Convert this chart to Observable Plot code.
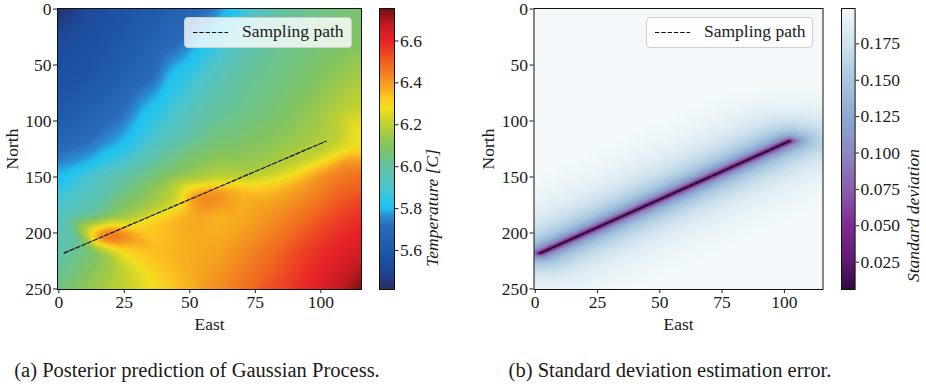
<!DOCTYPE html>
<html>
<head>
<meta charset="utf-8">
<script src="https://cdn.jsdelivr.net/npm/d3@7"></script>
<script src="https://cdn.jsdelivr.net/npm/@observablehq/plot@0.6"></script>
<style>
  body { margin: 0; background: #fff; }
  #root { position: relative; width: 926px; height: 386px; overflow: hidden;
          font-family: "Liberation Serif", "Times New Roman", serif; color: #1a1a1a; }
  .abs { position: absolute; }
  .abs svg { max-width: none !important; }
  .legend { position: absolute; box-sizing: border-box; border: 1px solid #cfcfcf; border-radius: 4px;
            background: rgba(255,255,255,0.8); }
  .legend span { position: absolute; font-size: 17.5px; white-space: nowrap; }
  .caption { position: absolute; font-size: 20.5px; white-space: nowrap; transform: translateX(-50%); }
</style>
</head>
<body>
<div id="root"></div>
<script>
// ---------------- data ----------------
const pathEast = [2, 102];
const pathNorth = [218, 118];

const xTicks = [0, 25, 50, 75, 100];
const yTicks = [0, 50, 100, 150, 200, 250];
const tempTicks = [5.6, 5.8, 6.0, 6.2, 6.4, 6.6];
const stdTicks = [0.025, 0.05, 0.075, 0.1, 0.125, 0.15, 0.175];

// Posterior mean temperature read on a coarse grid (east x north)
const gridEast = [0, 12.5, 25, 37.5, 50, 60, 70, 82.5, 95, 107.5, 115];
const gridNorth = [0, 30, 60, 90, 120, 150, 185, 215, 235, 250];
const tempGrid = [
  [5.42, 5.52, 5.57, 5.62, 5.67, 5.75, 5.85, 5.97, 6.03, 6.06, 6.08],
  [5.52, 5.56, 5.60, 5.67, 5.75, 5.85, 5.94, 6.02, 6.05, 6.08, 6.10],
  [5.56, 5.58, 5.65, 5.73, 5.86, 5.94, 6.01, 6.04, 6.08, 6.13, 6.16],
  [5.60, 5.65, 5.72, 5.83, 5.93, 6.00, 6.03, 6.07, 6.12, 6.18, 6.22],
  [5.68, 5.73, 5.80, 5.93, 6.03, 6.07, 6.09, 6.12, 6.16, 6.21, 6.27],
  [5.80, 5.92, 6.01, 6.08, 6.14, 6.19, 6.20, 6.24, 6.37, 6.46, 6.48],
  [5.92, 6.01, 6.14, 6.27, 6.38, 6.36, 6.37, 6.42, 6.48, 6.55, 6.58],
  [5.96, 6.07, 6.30, 6.35, 6.37, 6.38, 6.42, 6.48, 6.56, 6.61, 6.64],
  [6.01, 6.11, 6.20, 6.32, 6.37, 6.40, 6.45, 6.51, 6.58, 6.65, 6.70],
  [6.06, 6.14, 6.21, 6.29, 6.36, 6.42, 6.47, 6.54, 6.60, 6.68, 6.75]
];
// Readings along the colour contours of the cool band (5.72, 5.8, 5.9, 6.0)
const bandEast  = [57, 46, 37, 25, 11, 0,   65, 54, 42, 33, 25, 12, 0,   74, 65, 55, 46, 35, 24, 12, 0,   86, 77, 68, 58, 50, 38, 25, 12, 0];
const bandNorth = [0, 30, 60, 90, 119, 128, 0, 30, 60, 89, 119, 138, 150, 0, 30, 60, 89, 119, 138, 152, 176, 0, 30, 60, 90, 115, 132, 152, 184, 226];
const bandTemp  = [5.72, 5.72, 5.72, 5.72, 5.72, 5.72, 5.8, 5.8, 5.8, 5.8, 5.8, 5.8, 5.8,
                   5.9, 5.9, 5.9, 5.9, 5.9, 5.9, 5.9, 5.9, 6.0, 6.0, 6.0, 6.0, 6.0, 6.0, 6.0, 6.0, 6.0];
// Extra readings near the sampling path (local anomalies)
const extraEast  = [19, 16, 13.5, 17, 23, 28, 24, 19, 20, 14, 11, 9, 11, 15, 21, 27, 32, 27, 20, 26,
                    30, 38, 44, 33, 40, 45,
                    55, 51, 60, 65, 50, 57, 48, 48, 52, 60, 67, 44, 55, 63, 56, 63,
                    72, 72, 72, 72, 80, 80, 80, 80, 90, 90, 90, 90, 100, 100, 100, 100, 107, 107, 108, 110, 113, 114];
const extraNorth = [202, 205, 206, 198, 200, 204, 208, 209, 193, 197, 203, 206, 210, 212, 213, 211, 199, 196, 189, 190,
                    184, 177, 171, 192, 185, 180,
                    168, 172, 164, 161, 165, 161, 167, 176, 159, 157, 156, 165, 154, 153, 177, 173,
                    146, 152, 158, 165, 139, 148, 156, 163, 129, 140, 148, 156, 120, 131, 138, 146, 112, 122, 129, 137, 100, 112];
const extraTemp  = [6.52, 6.47, 6.40, 6.45, 6.47, 6.42, 6.44, 6.40, 6.30, 6.30, 6.25, 6.02, 6.05, 6.22, 6.32, 6.36, 6.32, 6.33, 6.18, 6.20,
                    6.17, 6.18, 6.20, 6.32, 6.31, 6.30,
                    6.45, 6.42, 6.44, 6.38, 6.38, 6.38, 6.30, 6.32, 6.30, 6.30, 6.30, 6.20, 6.19, 6.21, 6.42, 6.40,
                    6.16, 6.21, 6.30, 6.36, 6.16, 6.21, 6.30, 6.35, 6.17, 6.21, 6.30, 6.37, 6.18, 6.21, 6.30, 6.40, 6.19, 6.22, 6.30, 6.42, 6.26, 6.30];

// Temperature colour map
const tempColorStops = [5.414, 5.47, 5.55, 5.65, 5.72, 5.765, 5.8, 5.83, 5.9, 6.0, 6.1, 6.2, 6.28, 6.33, 6.4, 6.5, 6.6, 6.68, 6.755];
const tempColors = ["#2a2f5e", "#1f3f8a", "#1c50a2", "#2360b0", "#2a6cbb", "#2a8ed2", "#22bef0", "#26c4ec", "#4ec4cc", "#62c2a2",
                    "#82c460", "#c0d030", "#f0e020", "#fcc820", "#f49a20", "#f06020", "#e82228", "#c01a20", "#701010"];

// Standard deviation vs distance from the sampling path
const stdDistance = [0, 0.6, 1.2, 2, 3, 4.5, 6.5, 9, 13, 18, 25, 35, 50];
const stdValue = [0.006, 0.03, 0.055, 0.08, 0.1, 0.118, 0.135, 0.15, 0.163, 0.175, 0.186, 0.194, 0.199];
const stdDomain = [0.0062, 0.1993];
// Standard deviation colour map
const stdColorStops = [0.0062, 0.025, 0.05, 0.075, 0.1, 0.125, 0.15, 0.175, 0.1993];
const stdColors = ["#300a40", "#5e1a70", "#7e2a92", "#8a5eae", "#8b88c0", "#8eaad2", "#a8c6df", "#cfe2ee", "#f3f9fb"];

// ---------------- build ----------------
const serif = '"Liberation Serif", "Times New Roman", serif';
const pathPoints = pathEast.map((e, i) => ({east: e, north: pathNorth[i]}));
const tempPoints = [];
gridNorth.forEach((n, r) => gridEast.forEach((e, c) => tempPoints.push({east: e, north: n, temp: tempGrid[r][c]})));
bandEast.forEach((e, i) => tempPoints.push({east: e, north: bandNorth[i], temp: bandTemp[i]}));
extraEast.forEach((e, i) => tempPoints.push({east: e, north: extraNorth[i], temp: extraTemp[i]}));

// Triangulated (barycentric) field of the readings, lightly smoothed
const X0 = -0.5, X1 = 115.5, Y0 = -0.5, Y1 = 250.5, W = 304, H = 281;
function tempField() {
  const f = new Float64Array(W * H).fill(NaN);
  const del = d3.Delaunay.from(tempPoints, d => d.east, d => d.north);
  const T = del.triangles;
  const sx = (X1 - X0) / W, sy = (Y1 - Y0) / H;
  for (let t = 0; t < T.length; t += 3) {
    const a = tempPoints[T[t]], b = tempPoints[T[t + 1]], c = tempPoints[T[t + 2]];
    const det = (b.north - c.north) * (a.east - c.east) + (c.east - b.east) * (a.north - c.north);
    if (!det) continue;
    const i0 = Math.max(0, Math.floor((Math.min(a.east, b.east, c.east) - X0) / sx - 0.5));
    const i1 = Math.min(W - 1, Math.ceil((Math.max(a.east, b.east, c.east) - X0) / sx));
    const j0 = Math.max(0, Math.floor((Math.min(a.north, b.north, c.north) - Y0) / sy - 0.5));
    const j1 = Math.min(H - 1, Math.ceil((Math.max(a.north, b.north, c.north) - Y0) / sy));
    for (let j = j0; j <= j1; j++) {
      const y = Y0 + (j + 0.5) * sy;
      for (let i = i0; i <= i1; i++) {
        const x = X0 + (i + 0.5) * sx;
        const l1 = ((b.north - c.north) * (x - c.east) + (c.east - b.east) * (y - c.north)) / det;
        const l2 = ((c.north - a.north) * (x - c.east) + (a.east - c.east) * (y - c.north)) / det;
        const l3 = 1 - l1 - l2;
        if (l1 >= -1e-9 && l2 >= -1e-9 && l3 >= -1e-9) f[j * W + i] = l1 * a.temp + l2 * b.temp + l3 * c.temp;
      }
    }
  }
  for (let j = 0; j < H; j++) for (let i = 0; i < W; i++) {
    const k = j * W + i;
    if (isNaN(f[k])) f[k] = tempPoints[del.find(X0 + (i + 0.5) * sx, Y0 + (j + 0.5) * sy)].temp;
  }
  d3.blur2({data: f, width: W, height: H}, 4, 4);
  return Array.from(f);
}

const profile = d3.scaleLinear(stdDistance, stdValue).clamp(true);
function distToPath(x, y) {
  const ax = pathEast[0], ay = pathNorth[0], bx = pathEast[1], by = pathNorth[1];
  const dx = bx - ax, dy = by - ay;
  let t = ((x - ax) * dx + (y - ay) * dy) / (dx * dx + dy * dy);
  t = Math.max(0, Math.min(1, t));
  return Math.hypot(x - (ax + t * dx), y - (ay + t * dy));
}

const tempColor = {type: "linear", domain: tempColorStops, range: tempColors, clamp: true};
const stdColor = {type: "linear", domain: stdColorStops, range: stdColors, clamp: true};
const baseStyle = {fontFamily: serif, fontSize: "17.5px", color: "#1a1a1a", background: "transparent", overflow: "visible"};
const font = {fontFamily: serif, fontSize: 17.5};

function heatmap({raster, color, marginLeft, marginRight}) {
  return Plot.plot({
    width: 370, height: 335, marginLeft, marginRight, marginTop: 8, marginBottom: 46,
    style: baseStyle,
    x: {domain: [X0, X1]},
    y: {domain: [Y0, Y1], reverse: true},
    color,
    marks: [
      raster,
      Plot.line(pathPoints, {x: "east", y: "north", stroke: "#111", strokeWidth: 1.2, strokeDasharray: "4.4,1.9"}),
      Plot.frame({stroke: "#111", strokeWidth: 1}),
      Plot.axisX({ticks: xTicks, tickSize: 4, tickPadding: 2, label: "East", labelAnchor: "center", labelArrow: "none", labelOffset: 40, ...font}),
      Plot.axisY({ticks: yTicks, tickSize: 4, tickPadding: 2, label: "North", labelAnchor: "center", labelArrow: "none", labelOffset: 52, ...font})
    ]
  });
}

function colorbar({domain, color, ticks, tickFormat, label, barWidth, labelDx}) {
  return Plot.plot({
    width: 100, height: 335, marginLeft: 0, marginRight: 100 - barWidth, marginTop: 8, marginBottom: 46,
    style: baseStyle,
    x: {domain: [0, 1], axis: null},
    y: {domain},
    color,
    marks: [
      Plot.raster({x1: 0, x2: 1, y1: domain[0], y2: domain[1], fill: (x, y) => y, pixelSize: 1}),
      Plot.frame({stroke: "#111", strokeWidth: 1}),
      Plot.axisY({anchor: "right", ticks, tickFormat, tickSize: 3.5, tickPadding: 2, label: null, ...font}),
      Plot.text([label], {text: d => d, frameAnchor: "right", rotate: -90, dx: labelDx, fontStyle: "italic", ...font})
    ]
  });
}

const root = document.getElementById("root");
function place(node, left, top, width) {
  const d = document.createElement("div");
  d.className = "abs"; d.style.left = left + "px"; d.style.top = top + "px"; d.style.width = width + "px";
  d.appendChild(node); root.appendChild(d);
}

place(heatmap({
  raster: Plot.raster(tempField(), {width: W, height: H, x1: X0, x2: X1, y1: Y0, y2: Y1}),
  color: tempColor, marginLeft: 57, marginRight: 9
}), 0, 0, 370);

place(colorbar({domain: [5.414, 6.755], color: tempColor, ticks: tempTicks, tickFormat: ".1f",
  label: "Temperature [C]", barWidth: 15, labelDx: 38}), 379, 0, 100);

place(heatmap({
  raster: Plot.raster({fill: (x, y) => profile(distToPath(x, y)), x1: X0, x2: X1, y1: Y0, y2: Y1, pixelSize: 1}),
  color: stdColor, marginLeft: 63.5, marginRight: 17.5
}), 470, 0, 370);

place(colorbar({domain: stdDomain, color: stdColor, ticks: stdTicks, tickFormat: ".3f",
  label: "Standard deviation", barWidth: 13.6, labelDx: 58}), 841, 0, 100);

// legends
function legend(left, width) {
  const d = document.createElement("div");
  d.className = "legend";
  d.style.left = left + "px"; d.style.top = "17px"; d.style.width = width + "px"; d.style.height = "31px";
  d.innerHTML = '<svg width="50" height="31" style="position:absolute;left:0;top:0">' +
    '<line x1="8" x2="43" y1="14.5" y2="14.5" stroke="#111" stroke-width="1.2" stroke-dasharray="4.4,1.9"/></svg>' +
    '<span style="left:57px;top:3px">Sampling path</span>';
  root.appendChild(d);
}
legend(184, 168);
legend(646, 167);

// captions
function caption(text, cx) {
  const d = document.createElement("div");
  d.className = "caption"; d.style.left = cx + "px"; d.style.top = "359px";
  d.textContent = text; root.appendChild(d);
}
caption("(a) Posterior prediction of Gaussian Process.", 197);
caption("(b) Standard deviation estimation error.", 670);
</script>
</body>
</html>
